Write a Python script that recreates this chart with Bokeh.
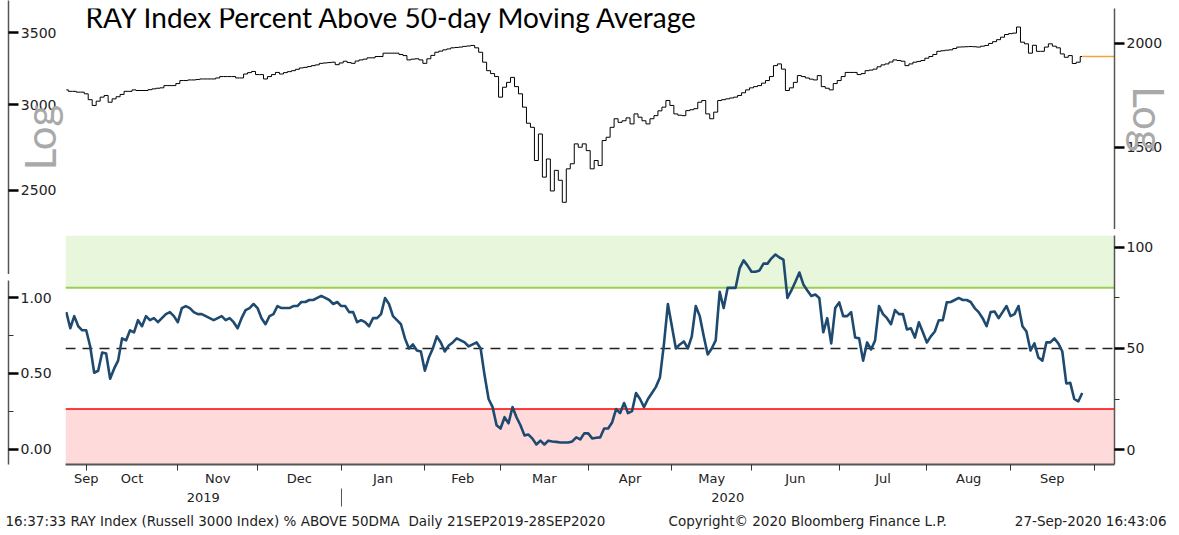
import numpy as np
from bokeh.plotting import figure
from bokeh.layouts import row, column
from bokeh.models import (Range1d, LinearAxis, LogAxis, FixedTicker, NumeralTickFormatter,
                          BoxAnnotation, Span, Label)
from bokeh.embed import file_html
from bokeh.resources import INLINE

# ---------------- texts ----------------
TITLE = "RAY Index Percent Above 50-day Moving Average"
FOOT_LEFT = "16:37:33 RAY Index (Russell 3000 Index) % ABOVE 50DMA\u00a0 Daily 21SEP2019-28SEP2020"
FOOT_MID = "Copyright\u00a9 2020 Bloomberg Finance L.P."
FOOT_RIGHT = "27-Sep-2020 16:43:06"
AXIS_NOTE = "Log"

# ---------------- calendar ----------------
START = "2019-09-23"
HOLIDAYS = ["2019-11-28", "2019-12-25", "2020-01-01", "2020-01-20", "2020-02-17",
            "2020-04-10", "2020-05-25", "2020-07-03", "2020-09-07"]

# ---------------- data (one value per trading session from START) ----------------
pct_above_50dma = [
    68, 60, 66, 61, 59, 59, 51, 38, 39, 48,
    47.5, 35, 40, 44, 55, 54, 59, 58, 64, 61,
    66, 64, 65, 63, 65, 67, 68, 66, 63, 70,
    71, 70, 68, 67, 67, 66, 65, 64, 65, 66,
    64, 65, 63, 60, 65, 69, 70, 72, 70, 65,
    62, 66, 67, 71, 70, 70, 70, 71, 71, 73,
    73, 74, 74, 75, 76, 75, 74, 72, 73, 71,
    71, 68, 68, 63, 64, 63, 61, 65, 65, 67,
    75, 72, 66, 64, 62, 55, 50, 52, 49, 48.5,
    39, 45.5, 50, 56, 53, 48.5, 51.5, 53, 55, 54,
    53, 51, 52, 53, 50, 36.6, 25, 21, 12, 10.4,
    16, 13, 21, 16, 12, 7, 7.4, 5.4, 2.5, 4.4,
    2.5, 4.4, 4, 3.8, 3.5, 3.5, 3.5, 4, 6, 5,
    8, 8, 5.5, 5.8, 6, 10.4, 10.4, 13.4, 20, 18,
    23, 18, 19, 28, 25, 21, 25, 28, 31, 35.6,
    52, 72, 61, 50, 52, 53.5, 50, 56, 71, 66,
    56, 47, 50, 54, 78, 70, 80, 80, 80, 89.6,
    93.6, 91, 88, 88, 88.6, 92, 92, 94.6, 96.5, 95,
    94, 75, 78.7, 83, 87.6, 81.7, 78.7, 76, 76.7, 75,
    58, 65, 52.5, 70, 72.8, 66, 66, 68, 55.4, 55,
    44, 53, 49.5, 54, 71, 67, 65, 62, 69, 67,
    67, 59.4, 60, 55.4, 63, 58, 53, 56, 58.4, 64,
    64, 72.8, 73, 74, 75, 74, 74, 73, 70, 68,
    65, 61, 68, 68.3, 65, 68, 71, 66, 67, 71,
    61, 58.4, 49, 52.5, 45.5, 44, 53, 53, 55, 52.5,
    48.5, 32.7, 33, 25, 23.8, 28,
]

ray_close = [
    1759, 1752, 1752, 1748, 1748, 1740, 1712, 1685, 1705, 1724,
    1732, 1700, 1716, 1726, 1737, 1752, 1752, 1759, 1756, 1756,
    1756, 1760, 1764, 1767, 1769, 1780, 1780, 1780, 1790, 1805,
    1805, 1808, 1808, 1810, 1813, 1813, 1813, 1813, 1818, 1825,
    1825, 1825, 1825, 1818, 1818, 1838, 1845, 1851, 1835, 1835,
    1813, 1825, 1835, 1846, 1838, 1845, 1850, 1855, 1862, 1869,
    1872, 1876, 1881, 1885, 1893, 1895, 1897, 1899, 1886, 1895,
    1904, 1897, 1893, 1905, 1911, 1915, 1922, 1922, 1929, 1929,
    1947, 1947, 1947, 1947, 1940, 1934, 1911, 1915, 1917, 1911,
    1893, 1917, 1935, 1952, 1958, 1965, 1970, 1976, 1978, 1980,
    1984, 1986, 1989, 1976, 1952, 1899, 1855, 1840, 1825, 1724,
    1772, 1796, 1821, 1775, 1740, 1677, 1604, 1586, 1447, 1557,
    1382, 1453, 1330, 1408, 1370, 1289, 1414, 1434, 1515, 1501,
    1515, 1487, 1414, 1447, 1427, 1529, 1543, 1586, 1624, 1608,
    1615, 1628, 1601, 1646, 1631, 1615, 1601, 1624, 1638, 1660,
    1677, 1708, 1685, 1646, 1640, 1638, 1661, 1665, 1670, 1700,
    1708, 1646, 1624, 1654, 1708, 1712, 1716, 1720, 1724, 1732,
    1745, 1759, 1769, 1775, 1780, 1792, 1805, 1825, 1881, 1890,
    1863, 1756, 1769, 1796, 1830, 1825, 1818, 1812, 1808, 1830,
    1775, 1767, 1759, 1790, 1805, 1825, 1846, 1846, 1846, 1835,
    1840, 1855, 1858, 1863, 1875, 1885, 1890, 1900, 1911, 1908,
    1904, 1881, 1890, 1899, 1903, 1908, 1920, 1929, 1940, 1957,
    1960, 1963, 1965, 1972, 1980, 1981, 1982, 1983, 1982, 1980,
    1985, 1989, 2000, 2010, 2021, 2035, 2050, 2055, 2058, 2093,
    2007, 1998, 1947, 1990, 1957, 1957, 1980, 1998, 1985, 1976,
    1943, 1925, 1934, 1892, 1899, 1929,
]

# reference levels / axis ticks
OVERBOUGHT, OVERSOLD, MIDLINE = 80, 20, 50
pct_ticks, pct_minor = [0, 50, 100], [25, 75]
frac_ticks, frac_minor = [0.0, 0.5, 1.0], [0.25, 0.75]
ray_ticks = [1500, 2000]
left_log_ticks = [2500, 3000, 3500]

# ---------------- layout constants ----------------
X0, X1 = -0.2, 263.1                    # visible session range
TOP_Y = (1195.6, 2203.0)                # right log scale of upper panel
TOP_LEFT_Y = (2090.0, 3747.0)           # left log scale of upper panel
BOT_Y = (-7.4, 105.9)
BOT_LEFT_Y = (-0.099, 1.112)
STUB_W = 65                             # width of the left scale strip (px)
STUB_AXIS_AT = 8                        # x of the left scale line inside the strip
FONT = "DejaVu Sans"
TXT = "#222222"
AX = "#555555"
NOTE_COLOR = "#a9a9a9"

n = len(pct_above_50dma)
days = np.arange(n)
cal = np.busday_offset(START, np.arange(n + 15), roll="forward", holidays=HOLIDAYS)
months = cal.astype("datetime64[M]")
firsts = np.nonzero(months[1:] != months[:-1])[0] + 1
month_ticks = [float(f - 1) for f in firsts if f - 1 <= X1]   # last session of each month
bounds = [X0] + month_ticks + [X1]
month_pos, month_names = [], []
for k in range(len(bounds) - 2):
    a, b = bounds[k], bounds[k + 1]
    d = cal[0] if k == 0 else cal[firsts[k - 1]]
    month_pos.append(round(max((a + b) / 2.0, month_ticks[0]), 2))
    month_names.append(d.astype(object).strftime("%b"))
years = cal.astype("datetime64[Y]")
yfirst = np.nonzero(years[1:] != years[:-1])[0] + 1
year_tick = float(yfirst[0] - 1)
year_pos = [round((X0 + year_tick) / 2, 2), round((year_tick + X1) / 2, 2)]
year_names = [str(cal[0].astype(object).year), str(cal[yfirst[0]].astype(object).year)]


def base(width, height, **kw):
    p = figure(width=width, height=height, output_backend="svg", toolbar_location=None,
               x_axis_location=None, y_axis_location=None, **kw)
    p.min_border = 0
    p.min_border_left = 0
    p.min_border_right = 0
    p.min_border_top = 0
    p.min_border_bottom = 0
    p.outline_line_color = None
    p.background_fill_color = "white"
    p.border_fill_color = "white"
    p.grid.visible = False
    return p


def style_axis(ax):
    ax.axis_line_color = AX
    ax.axis_line_width = 1.5
    ax.major_tick_line_color = "black"
    ax.major_tick_line_width = 2.5
    ax.major_tick_in = 0
    ax.major_tick_out = 10
    ax.minor_tick_line_color = "#333333"
    ax.minor_tick_line_width = 1
    ax.minor_tick_in = 0
    ax.minor_tick_out = 5
    ax.major_label_text_font = FONT
    ax.major_label_text_font_size = "14px"
    ax.major_label_text_color = TXT
    ax.major_label_standoff = 2
    ax.axis_label_text_font = "Lato"
    ax.axis_label_text_font_size = "42px"
    ax.axis_label_text_font_style = "normal"
    ax.axis_label_text_color = NOTE_COLOR
    ax.axis_label_standoff = -41
    return ax


# ---------------- upper-left strip (left log scale) ----------------
# the scale line sits at the strip's frame edge; ticks, labels and note face inwards
ts = base(STUB_W, 274, y_axis_type="log", x_range=Range1d(0, 1), y_range=Range1d(*TOP_LEFT_Y))
ts.min_border_left = STUB_AXIS_AT
lax = style_axis(LogAxis(ticker=FixedTicker(ticks=left_log_ticks),
                         formatter=NumeralTickFormatter(format="0"),
                         axis_label=AXIS_NOTE))
lax.major_tick_in = 10
lax.major_tick_out = 0
lax.minor_tick_out = 0
lax.major_label_standoff = -48
lax.axis_label_standoff = -47
ts.add_layout(lax, "left")

bar_l = base(STUB_W, 6, x_range=Range1d(0, 1), y_range=Range1d(0, 1))
bar_l.background_fill_color = "#444444"
bar_l.border_fill_color = "#444444"

# ---------------- lower-left strip ----------------
bs = base(STUB_W, 228, x_range=Range1d(0, 1), y_range=Range1d(*BOT_LEFT_Y))
bs.min_border_right = STUB_W - STUB_AXIS_AT
bs.min_border_bottom = 44
bs.add_layout(style_axis(LinearAxis(ticker=FixedTicker(ticks=frac_ticks, minor_ticks=frac_minor),
                                    formatter=NumeralTickFormatter(format="0.00"))), "right")
edge = LinearAxis(ticker=FixedTicker(ticks=[]), axis_line_color=AX, axis_line_width=1.5,
                  major_tick_line_color=None, minor_tick_line_color=None,
                  major_label_text_font_size="0px")
bs.add_layout(edge, "below")

# ---------------- upper main panel ----------------
tm = base(1114, 229, y_axis_type="log", x_range=Range1d(X0, X1), y_range=Range1d(*TOP_Y))
tm.min_border_top = 8
tm.min_border_right = 65
tm.step(days, ray_close, mode="center", line_color="black", line_width=1)
tm.segment(x0=[days[-1]], y0=[ray_close[-1]], x1=[X1], y1=[ray_close[-1]],
           line_color="#f2a33a", line_width=1.5)
tm.add_layout(style_axis(LogAxis(ticker=FixedTicker(ticks=ray_ticks),
                                 formatter=NumeralTickFormatter(format="0"),
                                 axis_label=AXIS_NOTE)), "right")
tm.add_layout(Label(x=327, y=213, x_units="screen", y_units="screen", text=TITLE,
                    text_font="Lato", text_font_size="28px", text_color="black",
                    text_align="center", text_baseline="alphabetic"))

bar_r = base(1103, 6, x_range=Range1d(0, 1), y_range=Range1d(0, 1))
bar_r.background_fill_color = "#444444"
bar_r.border_fill_color = "#444444"

# ---------------- lower main panel ----------------
bm = base(1114, 273, x_range=tm.x_range, y_range=Range1d(*BOT_Y))
bm.min_border_right = 65
bm.min_border_bottom = 44
bm.add_layout(BoxAnnotation(bottom=OVERBOUGHT, fill_color="#e8f6dc", fill_alpha=1,
                            line_color=None, level="underlay"))
bm.add_layout(BoxAnnotation(top=OVERSOLD, fill_color="#ffdada", fill_alpha=1,
                            line_color=None, level="underlay"))
bm.add_layout(Span(location=OVERBOUGHT, dimension="width", line_color="#99d04f",
                   line_width=2, level="underlay"))
bm.add_layout(Span(location=OVERSOLD, dimension="width", line_color="#ff0000",
                   line_width=1.5, level="underlay"))
bm.add_layout(Span(location=MIDLINE, dimension="width", line_color="#222222",
                   line_width=1.3, line_dash="10 7", level="underlay"))
bm.line(days, pct_above_50dma, line_color="#1f4a70", line_width=2.6, line_join="round")
bm.add_layout(style_axis(LinearAxis(ticker=FixedTicker(ticks=pct_ticks, minor_ticks=pct_minor),
                                    formatter=NumeralTickFormatter(format="0"))), "right")

mx = LinearAxis(ticker=FixedTicker(ticks=month_pos, minor_ticks=month_ticks),
                major_label_overrides={p: s for p, s in zip(month_pos, month_names)})
mx.axis_line_color = AX
mx.axis_line_width = 2
mx.major_tick_line_color = None
mx.major_tick_out = 0
mx.major_tick_in = 0
mx.minor_tick_line_color = "#333333"
mx.minor_tick_in = 0
mx.minor_tick_out = 6
mx.major_label_standoff = 0
mx.major_label_text_font = FONT
mx.major_label_text_font_size = "13px"
mx.major_label_text_color = TXT
bm.add_layout(mx, "below")

yx = LinearAxis(ticker=FixedTicker(ticks=year_pos, minor_ticks=[year_tick]),
                major_label_overrides={p: s for p, s in zip(year_pos, year_names)})
yx.axis_line_color = None
yx.major_tick_line_color = None
yx.major_tick_out = 0
yx.major_tick_in = 0
yx.minor_tick_line_color = "#555555"
yx.minor_tick_in = 0
yx.minor_tick_out = 18
yx.major_label_standoff = -14
yx.major_label_text_font = FONT
yx.major_label_text_font_size = "13px"
yx.major_label_text_color = TXT
bm.add_layout(yx, "below")

# ---------------- footer ----------------
ft = base(1179, 27, x_range=Range1d(0, 1), y_range=Range1d(0, 1))
for x, txt, align in [(5, FOOT_LEFT, "left"), (668, FOOT_MID, "left"), (1166, FOOT_RIGHT, "right")]:
    ft.add_layout(Label(x=x, y=15, x_units="screen", y_units="screen", text=txt,
                        text_font=FONT, text_font_size="13.5px", text_color=TXT,
                        text_align=align, text_baseline="alphabetic"))

layout = column(row(column(ts, bar_l, bs), column(tm, bar_r, bm)), ft)

open("out.html", "w").write(file_html(layout, INLINE))
